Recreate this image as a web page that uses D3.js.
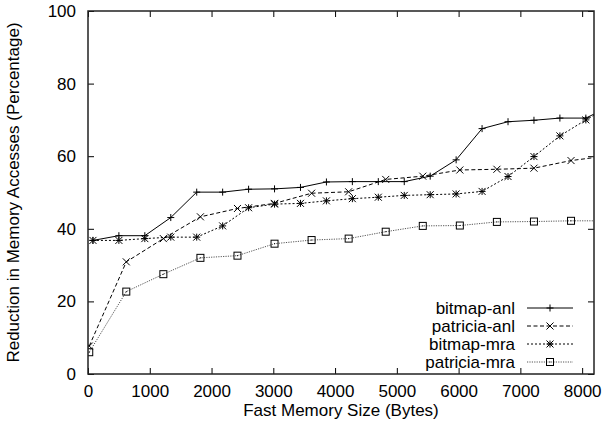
<!DOCTYPE html>
<html><head><meta charset="utf-8">
<script src="https://cdn.jsdelivr.net/npm/d3@7"></script>
<style>body{margin:0;background:#fff}svg{display:block}text{font-family:"Liberation Sans",Arial,sans-serif;fill:#000}</style>
</head><body><svg id="c" width="603" height="430"></svg>
<script>
const bitmapX = [80,500,920,1340,1760,2180,2600,3020,3440,3860,4280,4700,5120,5540,5960,6380,6800,7220,7640,8060,8480];
const bitmapAnl = [36.8,38.1,38.1,43.1,50.1,50.1,50.9,51.0,51.4,52.9,53.0,53.0,53.0,54.5,59.0,67.6,69.5,69.9,70.5,70.5,74.0];
const bitmapMra = [36.8,36.8,37.3,37.7,37.7,40.8,45.8,46.8,47.0,47.7,48.3,48.7,49.2,49.4,49.6,50.3,54.4,59.9,65.6,70.0,74.0];
const patriciaX = [20,620,1220,1820,2420,3020,3620,4220,4820,5420,6020,6620,7220,7820,8420];
const patriciaAnl = [7.7,30.9,37.3,43.3,45.6,47.0,49.8,50.2,53.6,54.5,56.2,56.4,56.7,58.8,60.1];
const patriciaMra = [6.0,22.7,27.5,32.0,32.6,35.9,36.9,37.3,39.2,40.8,40.9,41.9,42.0,42.2,42.2];
const xTicks = [0,1000,2000,3000,4000,5000,6000,7000,8000];
const yTicks = [0,20,40,60,80,100];
const seriesNames = ["bitmap-anl","patricia-anl","bitmap-mra","patricia-mra"];

const svg = d3.select("#c");
const L=88,R=594,T=11,B=374;
const x = d3.scaleLinear().domain([0,8192]).range([L,R]);
const y = d3.scaleLinear().domain([0,100]).range([B,T]);
const FS = 17;

svg.append("defs").append("clipPath").attr("id","pc").append("rect")
  .attr("x",L).attr("y",T).attr("width",R-L).attr("height",B-T);

const series = [
  {name:seriesNames[0], xs:bitmapX, ys:bitmapAnl, dash:null, color:"#000", mk:"plus"},
  {name:seriesNames[1], xs:patriciaX, ys:patriciaAnl, dash:"4,2.5", color:"#000", mk:"cross"},
  {name:seriesNames[2], xs:bitmapX, ys:bitmapMra, dash:"2,2", color:"#000", mk:"star"},
  {name:seriesNames[3], xs:patriciaX, ys:patriciaMra, dash:"1.2,1.2", color:"#555", mk:"square"}
];

function marker(g, cx, cy, type){
  const s=3.5;
  const p = g.append("g").attr("stroke","#000").attr("stroke-width",1).attr("fill","none");
  if(type==="plus"||type==="star"){
    p.append("line").attr("x1",cx-s).attr("x2",cx+s).attr("y1",cy).attr("y2",cy);
    p.append("line").attr("x1",cx).attr("x2",cx).attr("y1",cy-s).attr("y2",cy+s);
  }
  if(type==="cross"||type==="star"){
    p.append("line").attr("x1",cx-s).attr("x2",cx+s).attr("y1",cy-s).attr("y2",cy+s);
    p.append("line").attr("x1",cx-s).attr("x2",cx+s).attr("y1",cy+s).attr("y2",cy-s);
  }
  if(type==="square"){
    p.append("rect").attr("x",cx-s).attr("y",cy-s).attr("width",2*s).attr("height",2*s);
    p.append("rect").attr("x",cx-0.5).attr("y",cy-0.5).attr("width",1).attr("height",1).attr("fill","#000").attr("stroke","none");
  }
}

const plot = svg.append("g").attr("clip-path","url(#pc)");
series.forEach(s=>{
  const pts = s.xs.map((v,i)=>[v,s.ys[i]]);
  plot.append("path").datum(pts)
    .attr("d", d3.line().x(d=>x(d[0])).y(d=>y(d[1])))
    .attr("fill","none").attr("stroke",s.color).attr("stroke-width",1)
    .attr("stroke-dasharray",s.dash);
  pts.filter(d=>d[0]<=8192).forEach(d=>marker(plot, x(d[0]), y(d[1]), s.mk));
});

// axes with inward ticks on all sides
const tk = 6;
const fmt = d3.format("d");
const axB = svg.append("g").attr("transform",`translate(0,${B})`)
  .call(d3.axisBottom(x).tickValues(xTicks).tickSize(-tk).tickPadding(11).tickFormat(fmt));
const axT = svg.append("g").attr("transform",`translate(0,${T})`)
  .call(d3.axisTop(x).tickValues(xTicks).tickSize(-tk).tickFormat(""));
const axL = svg.append("g").attr("transform",`translate(${L},0)`)
  .call(d3.axisLeft(y).tickValues(yTicks).tickSize(-tk).tickPadding(12).tickFormat(fmt));
const axR = svg.append("g").attr("transform",`translate(${R},0)`)
  .call(d3.axisRight(y).tickValues(yTicks).tickSize(-tk).tickFormat(""));
[axB,axT,axL,axR].forEach(a=>{
  a.select(".domain").remove();
  a.selectAll("line").attr("stroke","#000").attr("stroke-width",1);
  a.selectAll("text").attr("font-size",FS).attr("font-family","Liberation Sans, Arial, sans-serif").attr("fill","#000");
});
svg.append("rect").attr("x",L).attr("y",T).attr("width",R-L).attr("height",B-T)
  .attr("fill","none").attr("stroke","#222").attr("stroke-width",1.5);

svg.append("text").attr("x",(L+R)/2).attr("y",416).attr("text-anchor","middle")
  .attr("font-size",FS).text("Fast Memory Size (Bytes)");
svg.append("text").attr("transform",`translate(19,${(T+B)/2}) rotate(-90)`).attr("text-anchor","middle")
  .attr("font-size",FS).text("Reduction in Memory Accesses (Percentage)");

// legend
const lgY = [308,326,344,362];
series.forEach((s,i)=>{
  const yy = lgY[i];
  svg.append("text").attr("x",515).attr("y",yy).attr("dy","0.35em").attr("text-anchor","end")
    .attr("font-size",FS).text(s.name);
  svg.append("line").attr("x1",527).attr("x2",573).attr("y1",yy).attr("y2",yy)
    .attr("stroke",s.color).attr("stroke-width",1).attr("stroke-dasharray",s.dash);
  marker(svg, 550, yy, s.mk);
});
</script></body></html>
